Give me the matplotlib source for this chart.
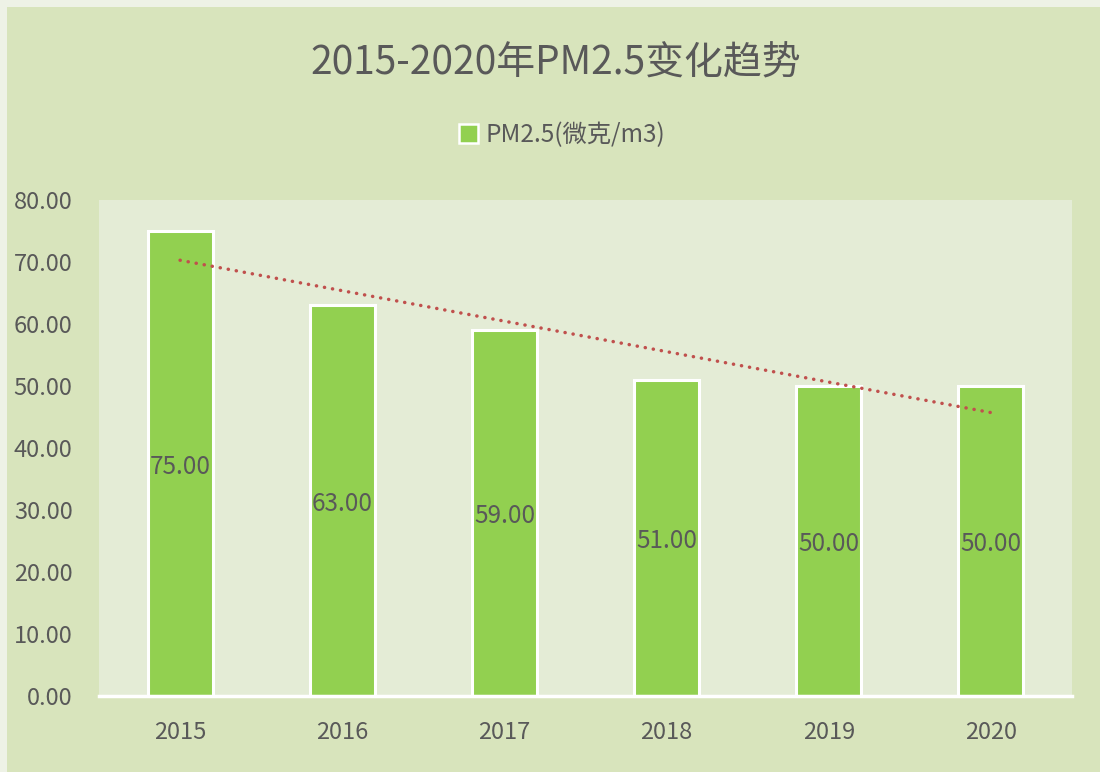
import matplotlib
matplotlib.use('Agg')
import matplotlib.pyplot as plt
from matplotlib.patches import Rectangle
import numpy as np

plt.rcParams['font.family'] = ['Noto Sans CJK SC', 'DejaVu Sans']

years = ['2015', '2016', '2017', '2018', '2019', '2020']
pm25 = [75.0, 63.0, 59.0, 51.0, 50.0, 50.0]
yticks = [0, 10, 20, 30, 40, 50, 60, 70, 80]
title = '2015-2020年PM2.5变化趋势'
series_name = 'PM2.5(微克/m3)'

bar_color = '#92D050'
text_color = '#595959'
outer_bg = '#D8E4BC'
plot_bg = '#E4ECD6'
trend_color = '#C0504D'

fig = plt.figure(figsize=(11, 7.72), dpi=100)
fig.patch.set_facecolor('#EEF2E6')
# chart area background (slightly inset on the left/top)
fig.patches.append(Rectangle((7 / 1100, 0), 1, 1 - 7 / 772, transform=fig.transFigure,
                             facecolor=outer_bg, edgecolor='none', zorder=-5))

ax = fig.add_axes([99 / 1100, 1 - 696 / 772, (1072 - 99) / 1100, (696 - 200) / 772])
ax.set_zorder(1)
ax.set_facecolor(plot_bg)

x = np.arange(len(years))
bars = ax.bar(x, pm25, width=0.4, color=bar_color, edgecolor='white', linewidth=2.2,
              zorder=2, label=series_name)
for xi, v in zip(x, pm25):
    ax.text(xi, v / 2, '%.2f' % v, ha='center', va='center_baseline', fontsize=17.5,
            color=text_color, zorder=4)

# linear trendline
k, b = np.polyfit(x + 1, pm25, 1)
ax.plot(x, k * (x + 1) + b, color=trend_color, lw=2.5, linestyle=(0, (0.05, 2.3)),
        dash_capstyle='round', solid_capstyle='round', zorder=3)

ax.set_xlim(-0.5, len(years) - 0.5)
ax.set_ylim(0, 80)
ax.set_yticks(yticks)
ax.set_yticklabels(['%.2f' % t for t in yticks])
ax.set_xticks(x)
ax.set_xticklabels(years)
ax.tick_params(axis='y', length=0, pad=19, labelsize=17, labelcolor=text_color)
ax.tick_params(axis='x', length=0, pad=18, labelsize=17, labelcolor=text_color)
for s in ['top', 'right', 'left']:
    ax.spines[s].set_visible(False)
ax.spines['bottom'].set_color('white')
ax.spines['bottom'].set_linewidth(2.5)
ax.spines['bottom'].set_zorder(5)

fig.text(556 / 1100, 1 - 63 / 772, title, ha='center', va='center', fontsize=28,
         color=text_color)

handle = Rectangle((0, 0), 1, 1, facecolor=bar_color, edgecolor='white', linewidth=1.8)
leg = fig.legend([handle], [series_name], loc='center', bbox_to_anchor=(562 / 1100, 1 - 135 / 772),
                 frameon=False, fontsize=17.5, handlelength=0.8, handleheight=0.8,
                 handletextpad=0.3, labelcolor=text_color)

fig.savefig('out.png', dpi=100, facecolor=fig.get_facecolor())
